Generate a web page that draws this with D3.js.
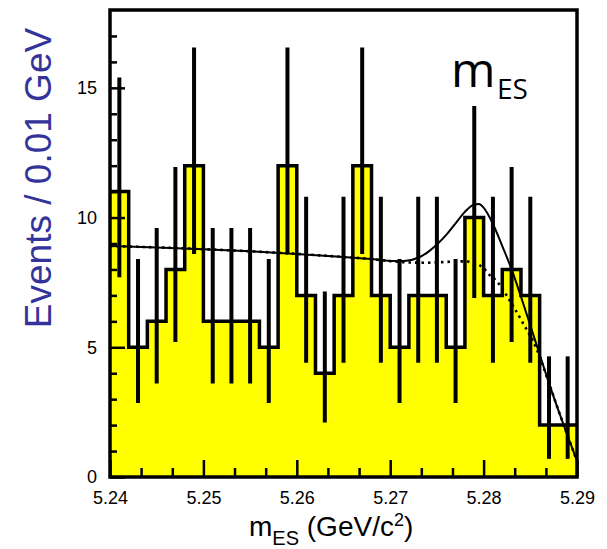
<!DOCTYPE html>
<html>
<head>
<meta charset="utf-8">
<script src="https://cdn.jsdelivr.net/npm/d3@7"></script>
<style>
  html, body { margin: 0; padding: 0; background: #fff; }
  svg { display: block; }
</style>
</head>
<body>
<svg id="chart" width="607" height="549"></svg>
<script>
// ---------------- data ----------------
const binLow = [5.240, 5.242, 5.244, 5.246, 5.248, 5.250, 5.252, 5.254, 5.256, 5.258,
                5.260, 5.262, 5.264, 5.266, 5.268, 5.270, 5.272, 5.274, 5.276, 5.278,
                5.280, 5.282, 5.284, 5.286, 5.288];
const binHigh = [5.242, 5.244, 5.246, 5.248, 5.250, 5.252, 5.254, 5.256, 5.258, 5.260,
                 5.262, 5.264, 5.266, 5.268, 5.270, 5.272, 5.274, 5.276, 5.278, 5.280,
                 5.282, 5.284, 5.286, 5.288, 5.290];
const counts = [11, 5, 6, 8, 12, 6, 6, 6, 5, 12, 7, 4, 7, 12, 7, 5, 7, 7, 5, 10, 7, 8, 7, 2, 2];
// error bar lower / upper ends
const errLow  = [7.7, 2.85, 3.6, 5.2, 8.6, 3.6, 3.6, 3.6, 2.85, 8.6, 4.4, 2.1, 4.4, 8.6, 4.4, 2.85, 4.4, 4.4, 2.85, 6.9, 4.4, 5.2, 4.4, 0.7, 0.7];
const errHigh = [15.4, 8.4, 9.6, 11.95, 16.55, 9.6, 9.6, 9.6, 8.4, 16.55, 10.8, 7.15, 10.8, 16.55, 10.8, 8.4, 10.8, 10.8, 8.4, 14.3, 10.8, 11.95, 10.8, 4.65, 4.65];

// total fit (solid)
const fitX = [5.240, 5.245, 5.250, 5.255, 5.260, 5.265, 5.268, 5.270, 5.2715, 5.273, 5.274, 5.275,
              5.276, 5.277, 5.278, 5.279, 5.2795, 5.280, 5.281, 5.282, 5.283, 5.284, 5.285,
              5.286, 5.287, 5.288, 5.289, 5.290];
const fitY = [8.90, 8.85, 8.78, 8.70, 8.60, 8.48, 8.40, 8.33, 8.33, 8.45, 8.66, 8.96,
              9.33, 9.78, 10.22, 10.50, 10.52, 10.38, 9.75, 8.90, 8.00, 6.95, 5.85,
              4.72, 3.62, 2.58, 1.58, 0.62];
// background (dotted)
const bkgX = [5.240, 5.245, 5.250, 5.255, 5.260, 5.265, 5.268, 5.270, 5.272, 5.274, 5.276, 5.277,
              5.278, 5.279, 5.280, 5.2806, 5.2814, 5.2828, 5.2842, 5.2856, 5.287, 5.288, 5.289, 5.290];
const bkgY = [8.90, 8.85, 8.78, 8.70, 8.60, 8.48, 8.40, 8.32, 8.27, 8.26, 8.29, 8.31,
              8.31, 8.25, 8.05, 7.80, 7.55, 6.80, 5.94, 5.00, 3.62, 2.58, 1.58, 0.62];

const xMajorTicks = [5.24, 5.25, 5.26, 5.27, 5.28, 5.29];
const xMinorTicks = [5.24333, 5.24667, 5.25333, 5.25667, 5.26333, 5.26667, 5.27333, 5.27667,
                     5.28333, 5.28667];
const yMajorTicks = [0, 5, 10, 15];
const yMinorTicks = [1, 2, 3, 4, 6, 7, 8, 9, 11, 12, 13, 14, 16, 17];

// ---------------- layout ----------------
const L = 110, R = 577, T = 10, B = 477;
const svg = d3.select("#chart");
const x = d3.scaleLinear().domain([5.24, 5.29]).range([L, R]);
const y = d3.scaleLinear().domain([0, 18]).range([B, T]);

svg.append("defs").append("clipPath").attr("id", "clip")
  .append("rect").attr("x", L).attr("y", T).attr("width", R - L).attr("height", B - T);

const plot = svg.append("g").attr("clip-path", "url(#clip)");

// histogram step points
const stepPts = binLow.map((b, i) => [b, counts[i]]);
stepPts.push([binHigh[binHigh.length - 1], counts[counts.length - 1]]);

plot.append("path")
  .datum(stepPts)
  .attr("fill", "#ffff00")
  .attr("d", d3.area().curve(d3.curveStepAfter).x(d => x(d[0])).y0(y(0)).y1(d => y(d[1])));

plot.append("path")
  .datum(stepPts)
  .attr("fill", "none")
  .attr("stroke", "#000")
  .attr("stroke-width", 3.5)
  .attr("d", d3.line().curve(d3.curveStepAfter).x(d => x(d[0])).y(d => y(d[1])));

// error bars
plot.append("g").selectAll("line")
  .data(counts.map((c, i) => i))
  .join("line")
  .attr("x1", i => x((binLow[i] + binHigh[i]) / 2))
  .attr("x2", i => x((binLow[i] + binHigh[i]) / 2))
  .attr("y1", i => y(errLow[i]))
  .attr("y2", i => y(errHigh[i]))
  .attr("stroke", "#000")
  .attr("stroke-width", 4);

// fit curves
const lineGen = d3.line().curve(d3.curveMonotoneX).x(d => x(d[0])).y(d => y(d[1]));
plot.append("path")
  .datum(bkgX.map((v, i) => [v, bkgY[i]]))
  .attr("fill", "none")
  .attr("stroke", "#000")
  .attr("stroke-width", 2.6)
  .attr("stroke-dasharray", "2.5,4")
  .attr("d", lineGen);
plot.append("path")
  .datum(fitX.map((v, i) => [v, fitY[i]]))
  .attr("fill", "none")
  .attr("stroke", "#000")
  .attr("stroke-width", 2)
  .attr("d", lineGen);

// axes
function styleAxis(g) {
  g.select(".domain").remove();
  g.selectAll(".tick line").attr("stroke", "#000").attr("stroke-width", 2.5);
  g.selectAll(".tick text").attr("fill", "#000")
    .style("font-family", "'Liberation Sans', Arial, sans-serif").style("font-size", "18px");
}
svg.append("g").attr("transform", `translate(${L},0)`)
  .call(d3.axisLeft(y).tickValues(yMinorTicks).tickSizeInner(-7).tickSizeOuter(0).tickFormat(""))
  .call(styleAxis);
svg.append("g").attr("transform", `translate(${L},0)`)
  .call(d3.axisLeft(y).tickValues(yMajorTicks).tickSizeInner(-15).tickSizeOuter(0).tickPadding(13).tickFormat(d3.format("d")))
  .call(styleAxis);
svg.append("g").attr("transform", `translate(0,${B})`)
  .call(d3.axisBottom(x).tickValues(xMinorTicks).tickSizeInner(-9).tickSizeOuter(0).tickFormat(""))
  .call(styleAxis);
svg.append("g").attr("transform", `translate(0,${B})`)
  .call(d3.axisBottom(x).tickValues(xMajorTicks).tickSizeInner(-17).tickSizeOuter(0).tickPadding(14).tickFormat(d3.format(".2f")))
  .call(styleAxis);

// frame
svg.append("rect").attr("x", L).attr("y", T).attr("width", R - L).attr("height", B - T)
  .attr("fill", "none").attr("stroke", "#000").attr("stroke-width", 3.5);

// in-plot label m_ES
svg.append("text").attr("x", 451).attr("y", 87)
  .style("font-family", "'Open Sans', sans-serif").style("font-size", "48px").attr("fill", "#000")
  .text("m");
svg.append("text").attr("x", 497).attr("y", 99)
  .style("font-family", "'Open Sans', sans-serif").style("font-size", "28px").attr("fill", "#000")
  .text("ES");

// x axis title
const xt = svg.append("text").attr("x", 249).attr("y", 536)
  .style("font-family", "'Liberation Sans', Arial, sans-serif").style("font-size", "28px").attr("fill", "#000");
xt.append("tspan").text("m");
xt.append("tspan").attr("dy", 9).style("font-size", "20px").text("ES");
xt.append("tspan").attr("dy", -9).text(" (GeV/c");
xt.append("tspan").attr("dy", -10).style("font-size", "18px").text("2");
xt.append("tspan").attr("dy", 10).text(")");

// y axis title
svg.append("text")
  .attr("transform", "translate(51,178) rotate(-90)")
  .attr("text-anchor", "middle")
  .style("font-family", "'Liberation Sans', Arial, sans-serif").style("font-size", "37px")
  .attr("fill", "#33339a")
  .text("Events / 0.01 GeV");
</script>
</body>
</html>
